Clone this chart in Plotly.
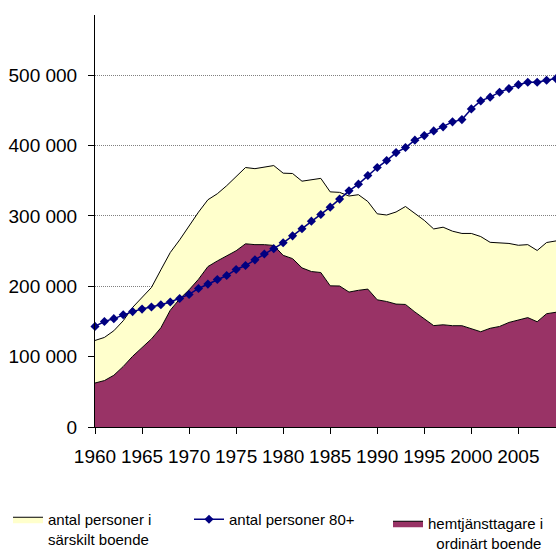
import plotly.graph_objects as go

years = list(range(1960, 2010))

# hemtjänsttagare i ordinärt boende (bottom area)
hemtjanst = [62500, 66000, 73500, 86000, 100500, 113300, 125200, 141000, 166000, 182000,
             195000, 210000, 228000, 236000, 243000, 250500, 260400, 259200, 259200, 258000,
             244000, 239300, 226200, 221000, 219600, 200700, 200400, 191800, 194300, 196000,
             180800, 178400, 174700, 174200, 163500, 153800, 144100, 145300, 144000, 144000,
             139800, 135400, 140300, 142900, 148600, 152400, 155500, 149600, 161000, 163100]

# antal personer i särskilt boende (stacked on top)
sarskilt = [60500, 61300, 63300, 65000, 69500, 71400, 73100, 82400, 82000, 84000,
            91000, 95400, 95000, 95500, 100000, 106000, 108400, 108000, 110400, 113600,
            116800, 121000, 123200, 130800, 133800, 133500, 133100, 136500, 135900, 124500,
            122200, 122900, 130900, 139200, 140500, 139900, 137400, 138700, 134300, 131100,
            135300, 135300, 122200, 118300, 112300, 105900, 103700, 101300, 101200, 101400]

# antal personer 80+
personer80 = [143000, 150000, 154000, 159500, 164000, 167600, 170500, 173700, 177600, 182700,
              188400, 196900, 203100, 209700, 215300, 223900, 229500, 237600, 246000, 253500,
              261800, 271700, 281700, 292600, 302000, 312500, 323900, 335700, 345200, 357400,
              368800, 378700, 390000, 397200, 407700, 414200, 420900, 426600, 433700, 436900,
              452100, 463500, 468800, 475900, 481000, 486600, 490000, 490000, 492900, 495200]

y_tick_vals = [0, 100000, 200000, 300000, 400000, 500000]
y_tick_labels = ["0", "100 000", "200 000", "300 000", "400 000", "500 000"]
x_tick_vals = [1960, 1965, 1970, 1975, 1980, 1985, 1990, 1995, 2000, 2005]

FONT = "Arial, Liberation Sans, sans-serif"

fig = go.Figure()
fig.add_trace(go.Scatter(
    x=years, y=hemtjanst, name="hemtjänsttagare i<br>\u00a0\u00a0ordinärt boende",
    mode="lines", stackgroup="one", fillcolor="#993366",
    line=dict(color="#000000", width=1), legend="legend3", hoverinfo="skip"))
fig.add_trace(go.Scatter(
    x=years, y=sarskilt, name="antal personer i<br>särskilt boende",
    mode="lines", stackgroup="one", fillcolor="#FFFFCC",
    line=dict(color="#000000", width=1), legend="legend", hoverinfo="skip"))
fig.add_trace(go.Scatter(
    x=years, y=personer80, name="antal personer 80+",
    mode="lines+markers", line=dict(color="#000080", width=1.5),
    marker=dict(symbol="diamond", size=7, color="#000080"),
    cliponaxis=False, legend="legend2"))

legend_common = dict(xref="container", yref="container", yanchor="top", xanchor="left",
                     font=dict(family=FONT, size=15, color="#000000"),
                     bgcolor="rgba(0,0,0,0)", borderwidth=0, valign="top",
                     itemwidth=30)

fig.update_layout(
    width=556, height=552,
    margin=dict(l=95, r=0, t=15, b=125, autoexpand=False),
    paper_bgcolor="#FFFFFF", plot_bgcolor="#FFFFFF",
    font=dict(family=FONT, color="#000000"),
    showlegend=True,
    legend=dict(x=8 / 556, y=1 - 503 / 552, **legend_common),
    legend2=dict(x=189 / 556, y=1 - 503 / 552, **legend_common),
    legend3=dict(x=388 / 556, y=1 - 507 / 552, **legend_common),
    xaxis=dict(range=[1960, 2009], tickvals=x_tick_vals, ticks="outside", ticklen=6,
               tickcolor="#000000", showline=True, linecolor="#000000", linewidth=1,
               showgrid=False, zeroline=False, ticklabelstandoff=6,
               tickfont=dict(family=FONT, size=19, color="#000000")),
    yaxis=dict(range=[0, 585600], tickvals=y_tick_vals, ticktext=y_tick_labels,
               ticks="outside", ticklen=6, tickcolor="#000000",
               showline=True, linecolor="#000000", linewidth=1,
               showgrid=True, gridcolor="#808080", griddash="1px,1px", gridwidth=1,
               zeroline=False, ticklabelstandoff=7,
               tickfont=dict(family=FONT, size=19, color="#000000")),
)

fig.write_html("out.html", config={"displayModeBar": False},
               post_script="document.body.style.margin='0px';document.body.style.overflow='hidden';")
